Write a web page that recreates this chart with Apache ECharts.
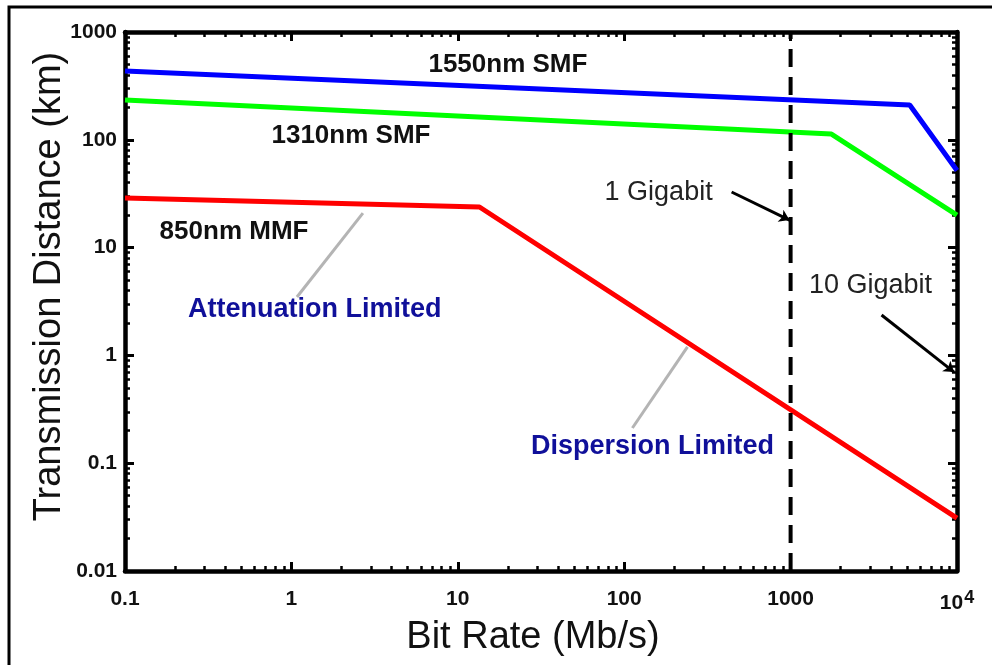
<!DOCTYPE html>
<html>
<head>
<meta charset="utf-8">
<script src="https://cdn.jsdelivr.net/npm/echarts@6/dist/echarts.min.js"></script>
<style>
  html, body { margin: 0; padding: 0; background: #fff; }
  #chart { width: 992px; height: 665px; }
</style>
</head>
<body>
<div id="chart"></div>
<script>
// bit rate (Mb/s) -> transmission distance (km)
const smf1550 = [[0.1, 434], [5200, 210], [10000, 52]]
const smf1310 = [[0.1, 234], [1760, 113], [10000, 20]]
const mmf850 = [[0.1, 28.8], [13.5, 23.8], [10000, 0.031]]
const gigabitLine = [[1000, 0.01], [1000, 1000]]

const xTickLabels = ["0.1", "1", "10", "100", "1000", "{b|10}{s|4}"]
const yTickLabels = ["0.01", "0.1", "1", "10", "100", "1000"]

// pointer segments
const grayPointers = [
  [[1.08, 3.48], [2.69, 20.9]],
  [[112, 0.212], [240, 1.2]]
]
const arrowPointers = [
  [[442, 32.8], [985, 18.0]],
  [[3520, 2.37], [9600, 0.70]]
]

// annotation text and anchor (data coords)
const curveNames = ["1550nm SMF", "1310nm SMF", "850nm MMF"]
const curveNameAt = [[20, 494], [2.28, 108], [0.452, 14.0]]
const limitNames = ["Attenuation Limited", "Dispersion Limited"]
const limitNameAt = [[1.38, 2.64], [148, 0.144]]
const rateNames = ["1 Gigabit", "10 Gigabit"]
const rateNameAt = [[161, 32.1], [3020, 4.4]]

const FONT = "'Liberation Sans', Arial, sans-serif"

const myChart = echarts.init(document.getElementById("chart"))

const baseAxis = {
  type: "log",
  logBase: 10,
  axisLine: { show: true, lineStyle: { color: "#000", width: 4.5 } },
  axisTick: { show: true, inside: true, length: 9, lineStyle: { color: "#000", width: 3 } },
  minorTick: { show: true, splitNumber: 9, length: 5, lineStyle: { color: "#000", width: 2.5 } },
  splitLine: { show: false },
  minorSplitLine: { show: false }
}

const textSeries = (names, at, style) => ({
  type: "scatter",
  symbolSize: 0,
  silent: true,
  z: 10,
  itemStyle: { opacity: 1 },
  data: names.map((n, i) => ({ value: at[i], name: n })),
  label: Object.assign({
    show: true,
    position: "inside",
    formatter: (p) => p.name,
    fontFamily: FONT
  }, style)
})

let option = {
  animation: false,
  backgroundColor: "#fff",
  graphic: [
    {
      type: "rect",
      shape: { x: 9, y: 7, width: 1000, height: 700 },
      style: { fill: null, stroke: "#000", lineWidth: 3 },
      silent: true
    }
  ],
  grid: {
    left: 125,
    right: 35,
    top: 32,
    bottom: 94,
    outerBoundsMode: "none",
    containLabel: false
  },
  xAxis: [
    Object.assign({}, baseAxis, {
      min: 0.1,
      max: 10000,
      name: "Bit Rate (Mb/s)",
      nameLocation: "middle",
      nameGap: 48,
      nameMoveOverlap: false,
      nameTextStyle: { fontFamily: FONT, fontSize: 38, color: "#111", padding: [0, 16, 0, 0] },
      axisLabel: {
        margin: 18,
        fontFamily: FONT,
        fontSize: 21,
        fontWeight: "bold",
        color: "#111",
        formatter: (v) => xTickLabels[Math.round(Math.log10(v)) + 1],
        rich: {
          b: { fontFamily: FONT, fontSize: 21, fontWeight: "bold", color: "#111" },
          s: { fontFamily: FONT, fontSize: 18, fontWeight: "bold", color: "#111", verticalAlign: "bottom", padding: [0, 0, 10, 1] }
        }
      }
    }),
    Object.assign({}, baseAxis, {
      min: 0.1,
      max: 10000,
      position: "top",
      axisLabel: { show: false }
    })
  ],
  yAxis: [
    Object.assign({}, baseAxis, {
      min: 0.01,
      max: 1000,
      name: "Transmission Distance (km)",
      nameLocation: "middle",
      nameGap: 56,
      nameMoveOverlap: false,
      nameTextStyle: { fontFamily: FONT, fontSize: 38, color: "#111", padding: [0, 0, 0, 30] },
      axisLabel: {
        margin: 8,
        fontFamily: FONT,
        fontSize: 21,
        fontWeight: "bold",
        color: "#111",
        formatter: (v) => yTickLabels[Math.round(Math.log10(v)) + 2]
      }
    }),
    Object.assign({}, baseAxis, {
      min: 0.01,
      max: 1000,
      position: "right",
      axisLabel: { show: false }
    })
  ],
  series: [
    {
      type: "line",
      data: smf1550,
      symbol: "none",
      lineStyle: { color: "#0000ff", width: 5 }
    },
    {
      type: "line",
      data: smf1310,
      symbol: "none",
      lineStyle: { color: "#00ff00", width: 5 }
    },
    {
      type: "line",
      data: mmf850,
      symbol: "none",
      lineStyle: { color: "#ff0000", width: 5 }
    },
    {
      type: "line",
      data: gigabitLine,
      symbol: "none",
      z: 5,
      lineStyle: { color: "#000", width: 4, type: [18, 10] }
    },
    {
      type: "lines",
      coordinateSystem: "cartesian2d",
      silent: true,
      data: grayPointers.map((c) => ({ coords: c })),
      lineStyle: { color: "#b4b4b4", width: 3, opacity: 1 }
    },
    {
      type: "lines",
      coordinateSystem: "cartesian2d",
      silent: true,
      z: 6,
      symbol: ["none", "arrow"],
      symbolSize: 10,
      data: arrowPointers.map((c) => ({ coords: c })),
      lineStyle: { color: "#000", width: 3, opacity: 1 }
    },
    textSeries(curveNames, curveNameAt, { fontSize: 26, fontWeight: "bold", color: "#111" }),
    textSeries(limitNames, limitNameAt, { fontSize: 27, fontWeight: "bold", color: "#10109a" }),
    textSeries(rateNames, rateNameAt, { fontSize: 27, color: "#222" })
  ]
}

myChart.setOption(option)
window.addEventListener("resize", () => {
  myChart.resize()
})
</script>
</body>
</html>
